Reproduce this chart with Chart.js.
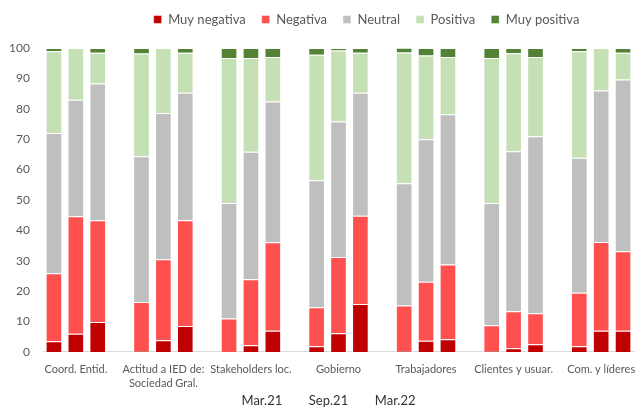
<!DOCTYPE html>
<html><head><meta charset="utf-8">
<script src="https://cdn.jsdelivr.net/npm/chart.js@4/dist/chart.umd.min.js"></script>
<style>html,body{margin:0;padding:0;background:#fff}#wrap{width:636px;height:409px}</style>
</head><body><div id="wrap"><canvas id="c" width="636" height="409"></canvas></div>
<script>
const categories = ["Coord. Entid.", ["Actitud a IED de:", "Sociedad Gral."], "Stakeholders loc.", "Gobierno", "Trabajadores", "Clientes y usuar.", "Com. y líderes"];
const periods = ["Mar.21", "Sep.21", "Mar.22"];
const seriesNames = ["Muy negativa", "Negativa", "Neutral", "Positiva", "Muy positiva"];
// values per group: [Mar.21, Sep.21, Mar.22]
const muyNegativa = [3.5,6.0,9.8, 0.3,3.8,8.5, 0,2.2,7.0, 1.9,6.1,15.8, 0.3,3.7,4.2, 0.3,1.2,2.5, 1.9,7.0,7.0];
const negativa    = [22.4,38.6,33.5, 16.1,26.7,34.8, 11.0,21.7,29.1, 12.8,25.1,29.0, 15.0,19.4,24.6, 8.5,12.2,10.2, 17.6,29.2,26.1];
const neutral     = [46.1,38.4,45.0, 48.0,48.1,42.0, 38.0,42.0,46.3, 41.8,44.6,40.5, 40.2,46.9,49.4, 40.2,52.6,58.3, 44.4,49.8,56.5];
const positiva    = [26.9,17.0,10.1, 33.8,21.4,13.1, 47.7,30.8,14.6, 41.3,23.4,13.1, 43.0,27.5,18.8, 47.7,32.3,26.0, 35.0,14.0,8.8];
const muyPositiva = [1.1,0,1.6, 1.8,0,1.6, 3.3,3.3,3.0, 2.2,0.8,1.6, 1.6,2.5,3.0, 3.3,1.7,3.0, 1.1,0,1.6];
const yTicks = [0,10,20,30,40,50,60,70,80,90,100];

const colors = ["#C00000", "#FF5050", "#BFBFBF", "#C5E0B4", "#548235"];

// Build slots: 3 bars per group, an empty slot between groups
const labels = [];
const slotIdx = [];
categories.forEach((cat, g) => {
  for (let p = 0; p < 3; p++) {
    labels.push(p === 1 ? cat : "");
    slotIdx.push(g * 3 + p);
  }
  if (g < categories.length - 1) { labels.push(""); slotIdx.push(null); }
});
function expand(arr) { return slotIdx.map(i => i === null ? null : arr[i]); }
const allSeries = [muyNegativa, negativa, neutral, positiva, muyPositiva];
const datasets = allSeries.map((arr, k) => ({
  label: seriesNames[k],
  data: expand(arr),
  backgroundColor: colors[k],
  borderColor: "rgba(255,255,255,0.45)",
  borderWidth: 1,
  barPercentage: 0.76,
  categoryPercentage: 1.0
}));

const legendShift = {
  id: "legendShift",
  afterLayout(chart) {
    const lg = chart.legend;
    if (!lg) return;
    lg.left += 98; // off-center legend like the reference
    lg.top -= 12;
    lg.bottom -= 12;
  }
};

const FONT = "Lato, 'Open Sans', sans-serif";
new Chart(document.getElementById("c"), {
  type: "bar",
  data: { labels, datasets },
  plugins: [legendShift],
  options: {
    responsive: false,
    animation: false,
    layout: { padding: { left: 1, right: 2, top: 9, bottom: 0 } },
    plugins: {
      legend: {
        position: "top",
        labels: { boxWidth: 8, boxHeight: 8, color: "#595959", font: { family: FONT, size: 13 }, padding: 16 }
      },
      tooltip: { enabled: false }
    },
    scales: {
      x: {
        stacked: true,
        grid: { display: false },
        border: { display: true, color: "#D9D9D9" },
        ticks: { autoSkip: false, maxRotation: 0, minRotation: 0, color: "#595959", font: { family: FONT, size: 11, lineHeight: 1.25 }, padding: 3 },
        title: { display: true, text: periods.join("        ") + "      ", color: "#333333", font: { family: FONT, size: 13 }, padding: { top: 0, bottom: 0 } }
      },
      y: {
        stacked: true,
        min: 0, max: 100,
        afterBuildTicks: (ax) => { ax.ticks = yTicks.map(v => ({ value: v })); },
        afterFit: (ax) => { ax.width = 42; },
        grid: { display: false, drawTicks: false },
        border: { display: false },
        ticks: { color: "#595959", font: { family: FONT, size: 12 }, padding: 13 }
      }
    }
  }
});
</script>
</body></html>
